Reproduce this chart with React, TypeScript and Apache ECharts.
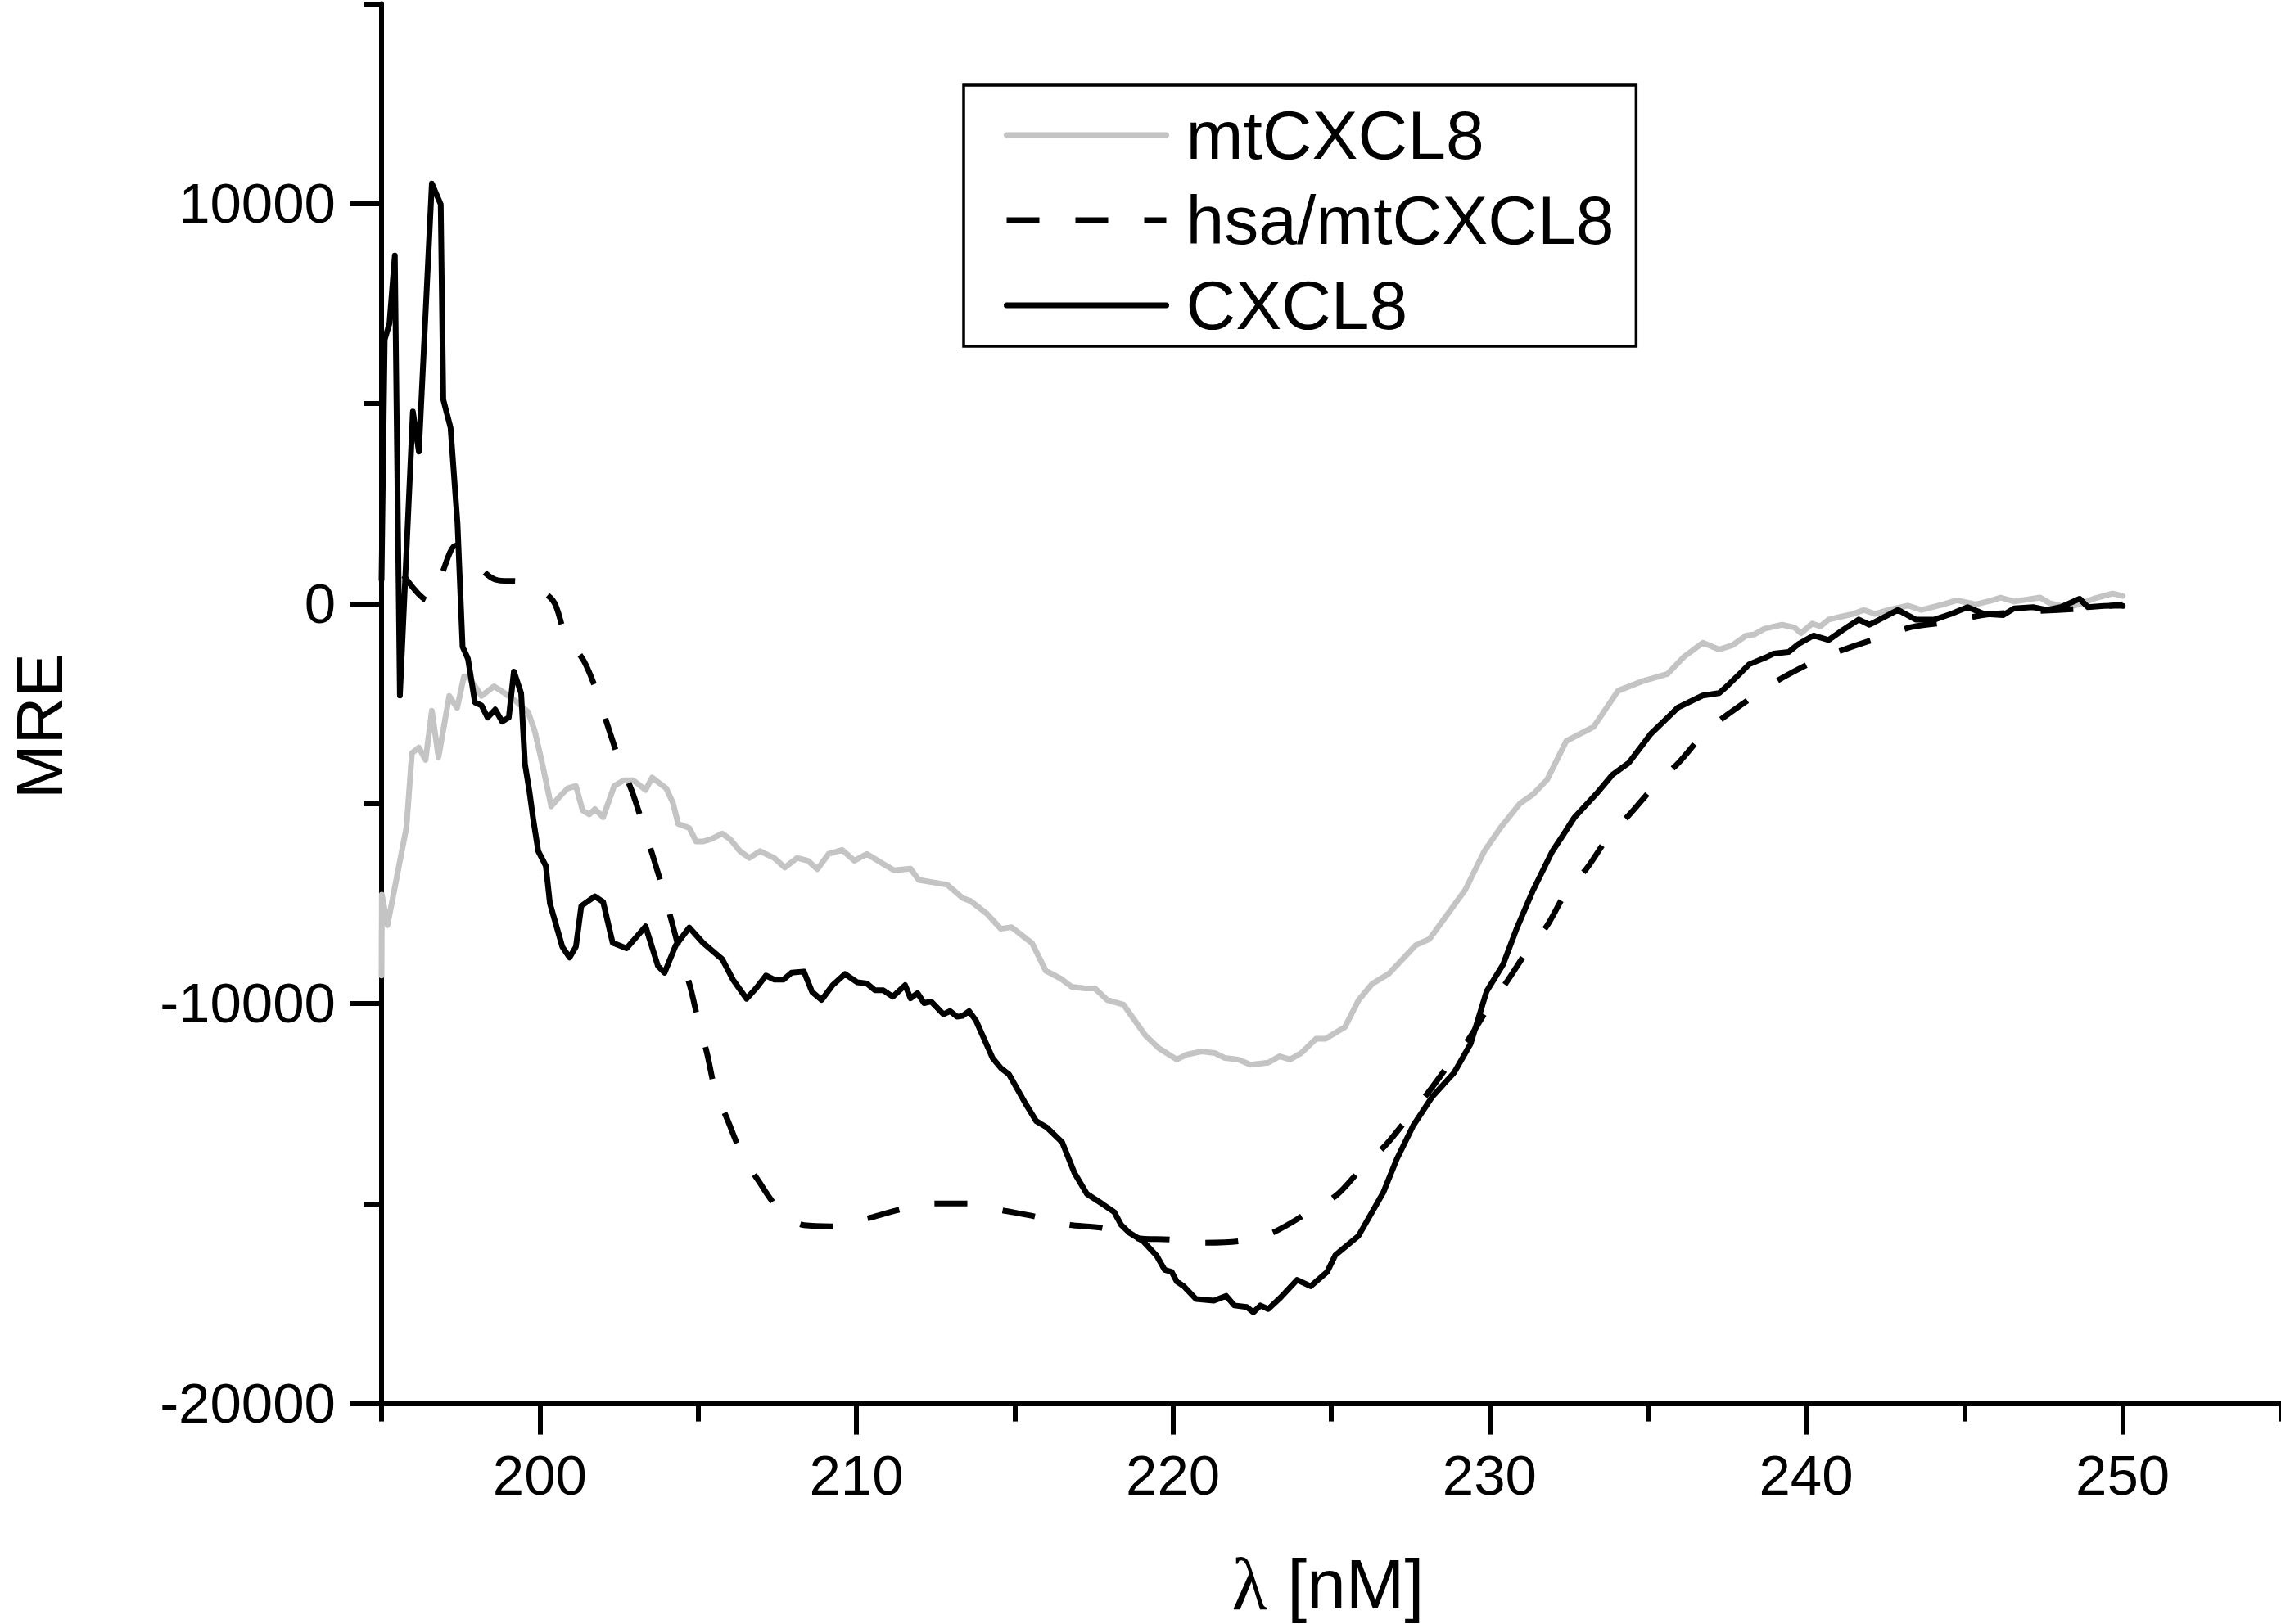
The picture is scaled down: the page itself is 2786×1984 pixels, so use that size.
import React, { useEffect, useRef } from "react";
import * as echarts from "echarts";

const FONT = "'Liberation Sans', Arial, sans-serif";

const X_MAJOR = [200, 210, 220, 230, 240, 250];
const X_MINOR = [195, 205, 215, 225, 235, 245, 255];
const Y_MAJOR = [-20000, -10000, 0, 10000];
const Y_MINOR = [-15000, -5000, 5000, 15000];

const SERIES_NAMES = ["mtCXCL8", "hsa/mtCXCL8", "CXCL8"];

const mtCXCL8 = [
  [195.0, -9300], [195.01, -7280], [195.19, -8040], [195.79, -5580], [195.96, -3740],
  [196.18, -3600], [196.39, -3910], [196.59, -2680], [196.8, -3840], [197.14, -2310],
  [197.39, -2610], [197.6, -1830], [197.77, -1860], [198.16, -2310], [198.55, -2070],
  [198.89, -2240], [199.24, -2440], [199.63, -2710], [199.84, -3190], [200.06, -3940],
  [200.36, -5070], [200.62, -4830], [200.88, -4620], [201.14, -4560], [201.35, -5170],
  [201.57, -5270], [201.74, -5140], [202.0, -5340], [202.35, -4560], [202.65, -4420],
  [202.95, -4420], [203.34, -4660], [203.55, -4350], [203.99, -4620], [204.2, -4970],
  [204.37, -5510], [204.72, -5610], [204.94, -5950], [205.15, -5950], [205.41, -5890],
  [205.76, -5750], [206.01, -5890], [206.32, -6190], [206.62, -6360], [206.96, -6190],
  [207.4, -6360], [207.74, -6600], [208.13, -6360], [208.47, -6430], [208.77, -6640],
  [209.12, -6260], [209.55, -6160], [209.94, -6430], [210.33, -6260], [210.85, -6510],
  [211.19, -6670], [211.71, -6630], [211.97, -6910], [212.87, -7030], [213.35, -7360],
  [213.61, -7440], [214.13, -7760], [214.56, -8130], [214.9, -8090], [215.55, -8490],
  [215.98, -9180], [216.46, -9380], [216.8, -9580], [217.23, -9620], [217.53, -9620],
  [217.92, -9910], [218.44, -10030], [219.13, -10800], [219.56, -11120], [220.12, -11400],
  [220.42, -11280], [220.9, -11200], [221.33, -11240], [221.63, -11360], [222.06, -11400],
  [222.45, -11530], [223.01, -11480], [223.36, -11320], [223.7, -11400], [224.05, -11240],
  [224.52, -10880], [224.82, -10880], [225.43, -10590], [225.86, -9920], [226.29, -9510],
  [226.81, -9260], [227.67, -8540], [228.1, -8390], [228.79, -7640], [229.23, -7160],
  [229.83, -6200], [230.35, -5600], [230.96, -5000], [231.39, -4760], [231.82, -4400],
  [232.42, -3440], [233.29, -3080], [234.06, -2180], [234.84, -1940], [235.62, -1760],
  [236.13, -1340], [236.74, -980], [237.25, -1150], [237.68, -1040], [238.11, -800],
  [238.37, -770], [238.68, -630], [239.24, -530], [239.63, -600], [239.84, -740],
  [240.19, -500], [240.45, -570], [240.71, -400], [241.09, -330], [241.48, -260],
  [241.83, -160], [242.17, -260], [242.61, -160], [243.21, -50], [243.64, -160],
  [244.33, -20], [244.76, 80], [245.36, -20], [245.88, 80], [246.14, 150],
  [246.57, 50], [247.39, 150], [247.69, 10], [248.21, -90], [248.64, -20],
  [249.08, 120], [249.68, 250], [250.0, 190],
];

const hsaMtCXCL8 = [
  [195.7, 700], [196.45, 80], [196.85, 640], [197.35, 1450], [197.95, 1000],
  [198.59, 600], [199.5, 530], [200.41, 80], [200.79, -740], [201.4, -1450],
  [201.83, -2270], [202.13, -3020], [202.52, -3940], [202.91, -4690], [203.25, -5510],
  [203.55, -6260], [203.9, -7180], [204.16, -7930], [204.46, -8820], [204.76, -9610],
  [205.02, -10490], [205.28, -11240], [205.54, -12160], [205.93, -12910], [206.36, -13730],
  [206.92, -14450], [207.61, -15200], [208.34, -15540], [209.42, -15570], [210.37, -15370],
  [211.49, -15130], [212.4, -15000], [213.52, -15000], [214.6, -15170], [215.68, -15330],
  [216.67, -15530], [217.75, -15610], [218.78, -15860], [219.9, -15900], [220.99, -15980],
  [222.1, -15940], [223.14, -15730], [224.22, -15250], [225.17, -14790], [225.95, -14130],
  [226.73, -13530], [227.41, -12870], [228.02, -12270], [228.75, -11490], [229.35, -10880],
  [230.0, -10050], [230.56, -9440], [231.21, -8660], [231.81, -8060], [232.42, -7220],
  [233.07, -6620], [233.77, -5820], [234.46, -5240], [235.32, -4460], [235.97, -3980],
  [236.83, -3200], [237.51, -2780], [238.49, -2240], [239.31, -1830], [240.43, -1380],
  [241.34, -1110], [242.37, -840], [243.32, -590], [244.49, -460], [245.57, -290],
  [246.65, -220], [247.95, -160], [248.85, -120], [250.0, -20],
];

const CXCL8 = [
  [195.0, 600], [195.1, 6600], [195.25, 7000], [195.42, 8700], [195.58, -2300],
  [195.99, 4800], [196.18, 3800], [196.59, 10500], [196.87, 9980], [196.95, 5100],
  [197.18, 4400], [197.4, 2000], [197.56, -1080], [197.73, -1380], [197.95, -2470],
  [198.16, -2550], [198.35, -2850], [198.59, -2650], [198.81, -2950], [199.02, -2850],
  [199.18, -1700], [199.41, -2240], [199.53, -4010], [199.67, -4690], [199.79, -5380],
  [199.95, -6190], [200.19, -6560], [200.32, -7500], [200.71, -8580], [200.94, -8850],
  [201.14, -8580], [201.31, -7560], [201.74, -7320], [202.0, -7460], [202.3, -8480],
  [202.74, -8620], [203.34, -8070], [203.73, -9060], [203.94, -9230], [204.29, -8550],
  [204.72, -8100], [205.15, -8480], [205.76, -8890], [206.1, -9400], [206.53, -9880],
  [206.84, -9610], [207.14, -9300], [207.4, -9400], [207.7, -9400], [207.95, -9230],
  [208.34, -9200], [208.6, -9710], [208.9, -9910], [209.25, -9540], [209.64, -9260],
  [210.03, -9470], [210.33, -9500], [210.59, -9670], [210.85, -9670], [211.15, -9830],
  [211.54, -9540], [211.71, -9870], [211.93, -9740], [212.14, -9990], [212.36, -9950],
  [212.75, -10270], [212.96, -10190], [213.18, -10330], [213.35, -10310], [213.56, -10190],
  [213.78, -10430], [214.3, -11360], [214.56, -11610], [214.82, -11770], [215.34, -12500],
  [215.68, -12940], [216.02, -13100], [216.5, -13470], [216.89, -14240], [217.28, -14760],
  [217.75, -15000], [218.14, -15210], [218.36, -15530], [218.62, -15730], [219.05, -15940],
  [219.48, -16300], [219.74, -16660], [219.96, -16710], [220.12, -16950], [220.34, -17070],
  [220.73, -17390], [221.29, -17430], [221.68, -17310], [221.94, -17550], [222.33, -17590],
  [222.54, -17720], [222.76, -17550], [223.01, -17640], [223.4, -17350], [223.92, -16910],
  [224.35, -17070], [224.87, -16710], [225.13, -16290], [225.86, -15810], [226.64, -14730],
  [227.07, -13890], [227.59, -13050], [228.19, -12330], [228.88, -11730], [229.4, -11010],
  [229.91, -9690], [230.43, -9020], [230.86, -8120], [231.38, -7160], [231.98, -6200],
  [232.33, -5780], [232.67, -5360], [233.37, -4760], [233.88, -4280], [234.4, -3980],
  [235.09, -3260], [235.95, -2600], [236.73, -2300], [237.25, -2240], [237.51, -2060],
  [237.9, -1760], [238.2, -1520], [238.72, -1350], [238.98, -1250], [239.45, -1210],
  [239.76, -1010], [240.23, -800], [240.71, -910], [241.14, -670], [241.66, -400],
  [242.0, -530], [242.9, -160], [243.46, -400], [244.06, -400], [244.58, -260],
  [245.1, -90], [245.62, -260], [246.22, -290], [246.57, -120], [247.17, -90],
  [247.6, -160], [248.04, -90], [248.64, 120], [248.9, -90], [249.4, -60],
  [249.9, -50], [250.0, -60],
];

const AXIS_COLOR = "#000000";
const GRAY = "#c4c4c4";
const LINE_W = 7;

export default function App() {
  const ref = useRef<HTMLDivElement>(null);

  useEffect(() => {
    document.body.style.margin = "0";
    if (!ref.current) return;
    const chart = echarts.init(ref.current, null, { renderer: "svg" });

    const tickLabel = {
      fontSize: 69,
      lineHeight: 69,
      fontFamily: FONT,
      color: "#000",
      formatter: (v: number) => String(v),
    };

    const option = {
      animation: false,
      backgroundColor: "#ffffff",
      grid: { left: 466, right: 0, top: 4.4, bottom: 269.4, containLabel: false },
      legend: {
        orient: "vertical",
        left: 1177,
        top: 104,
        padding: [19, 27, 8, 49],
        itemWidth: 195,
        itemHeight: 20,
        itemGap: 20,
        borderColor: "#000",
        borderWidth: 3.5,
        borderRadius: 0,
        backgroundColor: "#fff",
        selectedMode: false,
        data: SERIES_NAMES,
        itemStyle: { color: "transparent", borderColor: "transparent", borderWidth: 0, opacity: 0 },
        lineStyle: { width: LINE_W },
        textStyle: {
          fontSize: 84,
          lineHeight: 84,
          fontFamily: FONT,
          color: "#000",
          padding: [0, 0, 0, 19],
        },
      },
      xAxis: [
        {
          type: "value",
          min: 195,
          max: 255,
          position: "bottom",
          axisLine: { show: true, onZero: false, lineStyle: { color: AXIS_COLOR, width: 6 } },
          axisTick: { show: true, length: 38, customValues: X_MAJOR, lineStyle: { color: AXIS_COLOR, width: 6 } },
          axisLabel: { ...tickLabel, margin: 53, customValues: X_MAJOR },
          splitLine: { show: false },
        },
        {
          type: "value",
          min: 195,
          max: 255,
          position: "bottom",
          axisLine: { show: false, onZero: false },
          axisTick: { show: true, length: 22, customValues: X_MINOR, lineStyle: { color: AXIS_COLOR, width: 6 } },
          axisLabel: { show: false },
          splitLine: { show: false },
        },
      ],
      yAxis: [
        {
          type: "value",
          min: -20000,
          max: 15000,
          position: "left",
          axisLine: { show: true, onZero: false, lineStyle: { color: AXIS_COLOR, width: 6 } },
          axisTick: { show: true, length: 38, customValues: Y_MAJOR, lineStyle: { color: AXIS_COLOR, width: 6 } },
          axisLabel: { ...tickLabel, margin: 56, customValues: Y_MAJOR },
          splitLine: { show: false },
        },
        {
          type: "value",
          min: -20000,
          max: 15000,
          position: "left",
          axisLine: { show: false, onZero: false },
          axisTick: { show: true, length: 22, customValues: Y_MINOR, lineStyle: { color: AXIS_COLOR, width: 6 } },
          axisLabel: { show: false },
          splitLine: { show: false },
        },
      ],
      series: [
        {
          name: SERIES_NAMES[0],
          type: "line",
          xAxisIndex: 0,
          yAxisIndex: 0,
          data: mtCXCL8,
          symbol: "none",
          showSymbol: false,
          color: GRAY,
          lineStyle: { color: GRAY, width: LINE_W, join: "round", cap: "round" },
          emphasis: { disabled: true },
          z: 2,
        },
        {
          name: SERIES_NAMES[1],
          type: "line",
          xAxisIndex: 0,
          yAxisIndex: 0,
          data: hsaMtCXCL8,
          symbol: "none",
          showSymbol: false,
          smooth: 0.3,
          color: "#000",
          lineStyle: { color: "#000", width: LINE_W, type: [40, 44], cap: "butt", join: "round" },
          emphasis: { disabled: true },
          z: 3,
        },
        {
          name: SERIES_NAMES[2],
          type: "line",
          xAxisIndex: 0,
          yAxisIndex: 0,
          data: CXCL8,
          symbol: "none",
          showSymbol: false,
          color: "#000",
          lineStyle: { color: "#000", width: LINE_W, join: "round", cap: "round" },
          emphasis: { disabled: true },
          z: 4,
        },
      ],
      graphic: [
        {
          type: "text",
          x: 48,
          y: 887,
          rotation: Math.PI / 2,
          style: {
            text: "MRE",
            fontSize: 80,
            lineHeight: 80,
            fontFamily: FONT,
            fill: "#000",
            textAlign: "center",
            textVerticalAlign: "middle",
          },
        },
        {
          type: "text",
          x: 1622,
          y: 1935,
          style: {
            text: "{l|λ} [nM]",
            fontSize: 86,
            fontFamily: FONT,
            fill: "#000",
            textAlign: "center",
            textVerticalAlign: "middle",
            rich: {
              l: { fontSize: 90, fontFamily: "'Liberation Serif', 'Times New Roman', serif", fill: "#000" },
            },
          },
        },
      ],
    };

    chart.setOption(option as any);
    return () => chart.dispose();
  }, []);

  return <div ref={ref} style={{ width: 2786, height: 1984 }} />;
}
